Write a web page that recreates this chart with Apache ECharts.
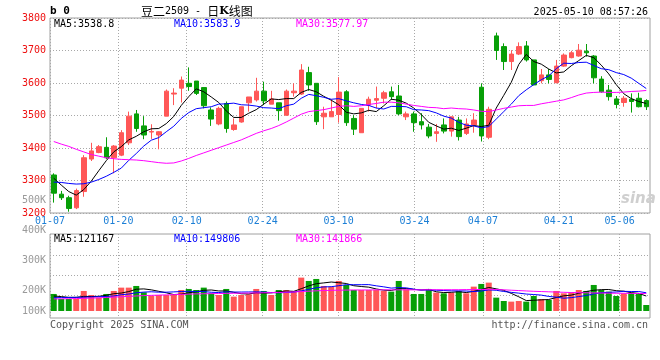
<!DOCTYPE html>
<html><head><meta charset="utf-8">
<script src="https://cdn.jsdelivr.net/npm/echarts/dist/echarts.min.js"></script>
<style>html,body{margin:0;padding:0;background:#fff}#c{width:660px;height:360px}</style>
</head><body><div id="c"></div>
<script>
const dates=['01-07','01-08','01-09','01-10','01-13','01-14','01-15','01-16','01-17','01-20','01-21','01-22','01-23','01-24','01-27','02-05','02-06','02-07','02-10','02-11','02-12','02-13','02-14','02-17','02-18','02-19','02-20','02-21','02-24','02-25','02-26','02-27','02-28','03-03','03-04','03-05','03-06','03-07','03-10','03-11','03-12','03-13','03-14','03-17','03-18','03-19','03-20','03-21','03-24','03-25','03-26','03-27','03-28','03-31','04-01','04-02','04-03','04-07','04-08','04-09','04-10','04-11','04-14','04-15','04-16','04-17','04-18','04-21','04-22','04-23','04-24','04-25','04-28','04-29','04-30','05-06','05-07','05-08','05-09','05-12'];
const tickDates=['01-07','01-20','02-10','02-24','03-10','03-24','04-07','04-21','05-06'];
const open=[3317,3258,3247,3216,3266,3366,3386,3402,3370,3378,3416,3505,3468,3449,3440,3498,3566,3584,3599,3606,3586,3517,3474,3537,3457,3480,3539,3548,3575,3535,3539,3501,3570,3566,3632,3599,3496,3496,3503,3573,3491,3447,3532,3547,3553,3573,3560,3496,3505,3481,3464,3445,3471,3452,3486,3445,3471,3587,3433,3745,3712,3666,3689,3714,3671,3607,3625,3601,3652,3678,3683,3698,3683,3612,3578,3551,3540,3550,3553,3546];
const close=[3261,3247,3214,3269,3370,3391,3404,3370,3406,3447,3498,3460,3440,3451,3450,3575,3569,3609,3589,3568,3530,3489,3522,3460,3471,3527,3557,3575,3545,3551,3515,3575,3575,3640,3594,3481,3507,3512,3572,3478,3458,3522,3550,3552,3570,3558,3505,3505,3478,3471,3437,3450,3452,3496,3435,3474,3486,3437,3519,3700,3666,3689,3712,3671,3594,3625,3611,3652,3686,3693,3701,3693,3616,3573,3558,3534,3553,3543,3527,3527];
const low=[3232,3240,3204,3212,3250,3360,3384,3366,3322,3375,3409,3450,3427,3428,3396,3498,3532,3540,3576,3563,3522,3468,3470,3447,3453,3478,3512,3543,3532,3535,3484,3499,3558,3563,3576,3471,3458,3496,3478,3468,3440,3447,3512,3522,3537,3548,3501,3486,3450,3457,3430,3419,3445,3435,3423,3440,3447,3420,3427,3671,3640,3640,3686,3666,3594,3599,3599,3599,3650,3676,3681,3681,3599,3570,3546,3522,3527,3509,3525,3517];
const high=[3322,3268,3253,3275,3378,3416,3409,3433,3409,3455,3512,3517,3498,3473,3452,3580,3584,3620,3648,3606,3586,3525,3527,3543,3491,3527,3557,3616,3604,3576,3539,3580,3599,3658,3650,3599,3527,3550,3618,3578,3501,3522,3558,3589,3576,3589,3594,3512,3512,3507,3474,3474,3491,3496,3496,3491,3507,3599,3527,3755,3722,3701,3725,3729,3671,3643,3643,3671,3691,3699,3720,3720,3686,3621,3594,3560,3560,3568,3570,3550];
const ma5=[3307,3286,3266,3255,3272,3298,3330,3361,3388,3404,3425,3436,3450,3459,3460,3475,3497,3531,3558,3582,3573,3557,3540,3514,3494,3494,3507,3518,3535,3551,3549,3552,3552,3571,3580,3573,3559,3547,3533,3510,3505,3508,3516,3512,3530,3550,3547,3538,3523,3503,3479,3468,3458,3461,3454,3461,3469,3466,3470,3523,3562,3602,3657,3688,3666,3658,3643,3631,3634,3653,3669,3685,3678,3655,3628,3595,3567,3552,3543,3537];
const ma10=[3295,3294,3291,3289,3290,3295,3303,3313,3325,3338,3362,3383,3406,3424,3432,3450,3467,3491,3509,3521,3524,3527,3535,3536,3538,3533,3532,3529,3524,3523,3521,3530,3535,3553,3565,3561,3556,3550,3552,3545,3539,3534,3531,3523,3520,3528,3528,3527,3518,3517,3515,3508,3498,3492,3479,3470,3468,3462,3466,3489,3512,3535,3561,3579,3595,3610,3622,3644,3661,3660,3663,3664,3654,3644,3641,3632,3626,3615,3599,3583];
const ma30=[3420,3412,3405,3396,3388,3380,3375,3370,3367,3365,3364,3363,3361,3358,3355,3353,3354,3360,3368,3377,3385,3393,3401,3409,3417,3425,3435,3445,3453,3460,3469,3480,3492,3504,3512,3515,3518,3523,3528,3530,3528,3530,3534,3537,3541,3541,3539,3535,3531,3528,3525,3524,3521,3523,3521,3520,3517,3513,3512,3517,3522,3526,3530,3531,3531,3536,3540,3544,3548,3555,3563,3569,3571,3572,3571,3571,3572,3574,3575,3577];
const volume=[138400,97700,97700,97700,162800,130200,108500,138400,162800,189900,189900,203500,151900,124800,130200,130200,130200,170900,179100,170900,189900,143800,130200,179100,116700,130200,135700,179100,162800,130200,170900,170900,162800,271300,244200,260400,203500,198000,244200,211600,170900,170900,170900,170900,162800,157400,244200,176300,138400,138400,179100,149200,143800,149200,162800,143800,198000,219800,230600,108500,81400,76000,81400,76000,122100,97700,89500,162800,143800,151900,170900,162800,211600,170900,157400,122100,143800,149200,143800,48800];
const vma5=[122000,117000,111000,111000,118900,117200,119400,127500,140500,146000,157900,176900,179600,172000,160100,148100,133500,137300,148100,156300,168200,170900,162800,162800,151900,140000,138400,148200,144900,147600,155700,162800,159500,181200,204000,221900,228400,235500,230100,223500,205600,199100,193700,179000,169300,166600,181200,182300,175800,170900,175300,156300,149800,151900,156800,149800,159500,174700,191000,180100,167700,143300,115600,84700,87400,90600,93300,109600,123200,129100,143800,158400,168200,173600,174700,165000,161200,148700,143300,121500];
const vma10=[108000,109000,110000,111000,112000,114000,116000,118000,122000,132400,137600,148100,153600,156300,153000,153000,155200,158400,160100,158200,158200,152200,150000,155500,154100,154100,154700,155500,153800,149800,147900,150600,153800,163100,175800,188800,195600,197500,205600,213800,213800,213800,214600,204600,196400,186100,190200,188000,177400,170100,170900,168800,166100,163900,163900,162500,157900,162300,171500,168500,158700,151400,145200,137800,133800,129200,118300,112600,103900,108300,117200,125900,138900,148400,151900,154400,159800,158400,158400,148100];
const vma30=[98000,99000,100000,101000,103000,105000,107000,110000,113000,116000,119000,122000,125000,127000,129000,131000,133000,135000,137000,139000,140000,141000,142000,143000,144000,145000,146000,147000,148000,149000,151000,153000,155000,158000,161000,164000,166000,168000,169000,170000,171000,171000,171000,172000,172000,172000,172000,172000,172000,172000,173000,173000,173000,173000,173000,174000,174000,175000,176000,175000,172000,169000,166000,163000,160000,158000,156000,154000,152000,150000,149000,148000,147000,146000,145000,144000,144000,143000,142000,142000];
const priceLegend=['MA5:3538.8','MA10:3583.9','MA30:3577.97'];
const volLegend=['MA5:121167','MA10:149806','MA30:141866'];
const volTicks=[100000,200000,300000,400000,500000];

const UP='#ff5757', DOWN='#079f07';
const MONO='DejaVu Sans Mono';
const kData=dates.map((d,i)=>[open[i],close[i],low[i],high[i]]);
const volData=volume.map((v,i)=>({value:v,itemStyle:{color: close[i]>=open[i]?UP:DOWN}}));
const isTick=(idx,val)=>tickDates.indexOf(val)>=0;
const dotted={show:true,interval:isTick,lineStyle:{color:'#a8a8a8',type:[1,2],width:1}};
const hidden={show:false};
const hideAxis={axisLine:hidden,axisTick:hidden,axisLabel:hidden,splitLine:hidden};

const chart=echarts.init(document.getElementById('c'),null,{renderer:'canvas'});
const L=50,W=600;
const line=(name,data,color,xi,yi)=>({name,type:'line',data,xAxisIndex:xi,yAxisIndex:yi,showSymbol:false,symbol:'none',lineStyle:{color,width:1},itemStyle:{color},z:5,silent:true});
chart.setOption({
  animation:false,
  backgroundColor:'#fff',
  grid:[
    {left:L,top:18,width:W,height:195,show:true,borderColor:'#a0a0a0',borderWidth:1},
    {left:L,top:234,width:W,height:84,show:true,borderColor:'#a0a0a0',borderWidth:1},
    {left:L,top:255,width:W,height:40,show:false},
    {left:L,top:200,width:W,height:90,show:false},
    {left:L,top:211,width:W,height:100,show:false}
  ],
  xAxis:[
    Object.assign({type:'category',gridIndex:0,position:'top',data:dates,boundaryGap:true},hideAxis),
    {type:'category',gridIndex:0,position:'bottom',data:dates,boundaryGap:false,axisLine:hidden,axisTick:hidden,
      axisLabel:{interval:isTick,color:'#1c7fd6',fontFamily:MONO,fontSize:10,margin:3},splitLine:dotted},
    Object.assign({type:'category',gridIndex:1,position:'top',data:dates,boundaryGap:true},hideAxis),
    {type:'category',gridIndex:1,position:'bottom',data:dates,boundaryGap:false,axisLine:hidden,axisTick:hidden,axisLabel:hidden,splitLine:dotted},
    Object.assign({type:'category',gridIndex:2,data:dates},hideAxis),
    Object.assign({type:'category',gridIndex:3,data:dates},hideAxis),
    Object.assign({type:'category',gridIndex:4,data:dates},hideAxis)
  ],
  yAxis:[
    {type:'value',gridIndex:0,min:3200,max:3800,interval:100,axisLine:hidden,axisTick:hidden,
      axisLabel:{color:'#ee1111',fontFamily:MONO,fontSize:10,margin:4,formatter:v=>String(v)},
      splitLine:{show:true,lineStyle:{color:'#a8a8a8',type:[1,2],width:1}}},
    Object.assign({type:'value',gridIndex:1,min:-57000,max:626000},hideAxis),
    {type:'value',gridIndex:2,min:0,max:2,interval:1,axisLine:hidden,axisTick:hidden,axisLabel:hidden,
      splitLine:{show:true,lineStyle:{color:'#a8a8a8',type:[1,2],width:1}}},
    {type:'value',gridIndex:3,min:volTicks[1],max:volTicks[4],interval:100000,axisLine:hidden,axisTick:hidden,splitLine:hidden,
      axisLabel:{color:'#9a9a9a',fontFamily:MONO,fontSize:10,margin:4,formatter:v=>(v/1000)+'K'}},
    {type:'value',gridIndex:4,min:volTicks[0],max:volTicks[1],interval:100000,axisLine:hidden,axisTick:hidden,splitLine:hidden,
      axisLabel:{color:'#9a9a9a',fontFamily:MONO,fontSize:10,margin:4,formatter:v=>v===volTicks[0]?(v/1000)+'K':''}}
  ],
  series:[
    {type:'candlestick',xAxisIndex:0,yAxisIndex:0,data:kData,barWidth:5,z:3,
      itemStyle:{color:UP,color0:DOWN,borderColor:UP,borderColor0:DOWN,borderWidth:1}},
    line('MA5',ma5,'#000000',0,0),
    line('MA10',ma10,'#0000ff',0,0),
    line('MA30',ma30,'#ff00ff',0,0),
    {type:'bar',xAxisIndex:2,yAxisIndex:1,data:volData,barWidth:6,z:3},
    line('VMA5',vma5,'#000000',2,1),
    line('VMA10',vma10,'#0000ff',2,1),
    line('VMA30',vma30,'#ff00ff',2,1)
  ],
  graphic:[
    {type:'text',x:50,y:11,style:{text:'b 0',font:'bold 11px '+MONO,fill:'#000',verticalAlign:'middle'}},
    {type:'text',x:141,y:11,style:{text:'{a|豆二}{b|2509 - }{a|日}{k|K}{a|线图}',verticalAlign:'middle',
      rich:{a:{fontFamily:'Noto Sans CJK SC',fontSize:12,color:'#000'},
            b:{fontFamily:MONO,fontSize:10,color:'#555',whiteSpace:'pre'},
            k:{fontFamily:'DejaVu Serif',fontSize:11,fontWeight:'bold',color:'#000'}}}},
    {type:'text',x:648,y:12,style:{text:'2025-05-10 08:57:26',font:'10px '+MONO,fill:'#000',align:'right',verticalAlign:'middle'}},
    {type:'text',x:54,y:24,z:10,style:{text:priceLegend[0],font:'10px '+MONO,fill:'#000',verticalAlign:'middle'}},
    {type:'text',x:174,y:24,z:10,style:{text:priceLegend[1],font:'10px '+MONO,fill:'#0000ff',verticalAlign:'middle'}},
    {type:'text',x:296,y:24,z:10,style:{text:priceLegend[2],font:'10px '+MONO,fill:'#ff00ff',verticalAlign:'middle'}},
    {type:'text',x:54,y:239,z:10,style:{text:volLegend[0],font:'10px '+MONO,fill:'#000',verticalAlign:'middle'}},
    {type:'text',x:174,y:239,z:10,style:{text:volLegend[1],font:'10px '+MONO,fill:'#0000ff',verticalAlign:'middle'}},
    {type:'text',x:296,y:239,z:10,style:{text:volLegend[2],font:'10px '+MONO,fill:'#ff00ff',verticalAlign:'middle'}},
    {type:'text',x:50,y:325,style:{text:'Copyright 2025 SINA.COM',font:'10px '+MONO,fill:'#555',verticalAlign:'middle'}},
    {type:'text',x:648,y:325,style:{text:'http://finance.sina.com.cn',font:'10px '+MONO,fill:'#555',align:'right',verticalAlign:'middle'}},
    {type:'text',x:621,y:199,z:1,style:{text:'sina',font:'italic bold 15px "DejaVu Sans"',fill:'#cfcfcf',verticalAlign:'middle'}}
  ]
});
</script></body></html>
